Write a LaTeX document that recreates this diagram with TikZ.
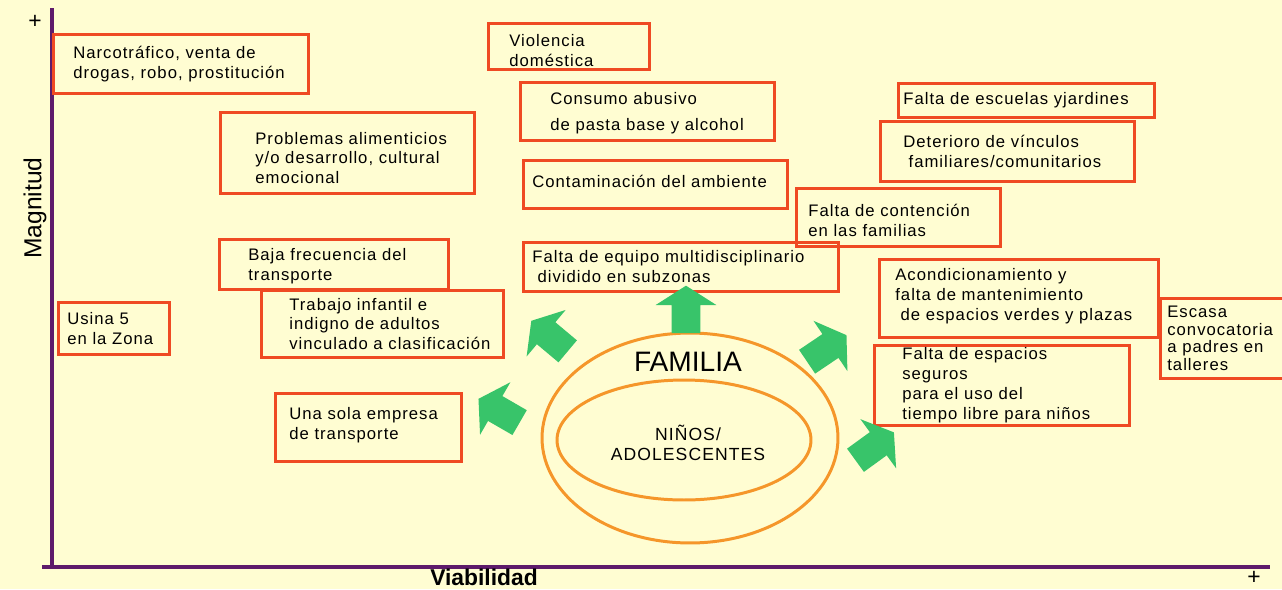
\documentclass[tikz,border=0pt]{standalone}
\usepackage{fontspec}
\setmainfont{Liberation Sans}
\newfontfamily\boxfont{Liberation Sans}[LetterSpace=6]
\usetikzlibrary{positioning}
\usetikzlibrary{shapes.geometric}
\usetikzlibrary{shapes.arrows}
\usepackage{xcolor}

\definecolor{bgyellow}{HTML}{FFFDD2}
\definecolor{boxred}{HTML}{EF4A23}
\definecolor{axispurple}{HTML}{5E1B6B}
\definecolor{ringorange}{HTML}{F5962A}
\definecolor{arrowgreen}{HTML}{38C46A}

\tikzset{
  probbox/.style={draw=boxred, line width=1.6pt, anchor=north west, inner sep=0pt},
  probtext/.style={font=\boxfont\fontsize{9.5}{11.3}\selectfont, align=left, inner sep=0pt},
  ring/.style={draw=ringorange, ellipse, line width=1.7pt, inner sep=0pt},
  garrow/.style={single arrow, fill=arrowgreen, inner xsep=0pt, inner ysep=0.28cm,
    minimum height=0.95cm, single arrow head extend=0.32cm, single arrow tip angle=115}
}

\begin{document}
\begin{tikzpicture}[x=0.02cm,y=-0.02cm]
      % Background
      \fill[bgyellow] (0,0) rectangle (1282,589);
      \useasboundingbox (0,0) rectangle (1282,589);

      % Axis
      \draw[axispurple, line width=2.2pt] (52,8) -- (52,567);
      \draw[axispurple, line width=2.2pt] (42,567) -- (1270,567);
      \node[font=\fontsize{13}{13}\selectfont] (ymax) at (35,22) {+};
      \node[font=\fontsize{13}{13}\selectfont] (xmax) at (1254,578) {+};
      \node[rotate=90, font=\fontsize{14}{14}\selectfont] (ylabel) at (35,208) {Magnitud};
      \node[font=\bfseries\fontsize{13}{13}\selectfont, inner sep=0pt] (xlabel) at (484,577) {Viabilidad};

      % Boxes
      \foreach \nm/\l/\t/\w/\h in {narco/52/33/255/59, violencia/487/22/161/46,
        consumo/519/81/254/58, escuelas/897/82/256/34, problemas/219/111/254/81,
        deterioro/879/120/254/60, contam/522/159/264/48, contencion/795/187/204/58,
        baja/218/238/229/50, equipo/522/241/315/49, acond/878/258/279/78,
        usina/57/301/111/52, trabajo/260/289/242/67, escasa/1159/297/130/80,
        seguros/873/344/255/80, empresa/274/392/186/68}
      {
        \node[probbox, minimum width=\w*0.02cm, minimum height=\h*0.02cm] (\nm) at (\l,\t) {};
      }

      % Box texts
      \node[probtext, right=0.42cm of narco.west] (narcoT) {Narcotráfico, venta de\\drogas, robo, prostitución};
      \node[probtext, right=0.44cm of violencia.west, yshift=-0.08cm] (violenciaT) {Violencia\\doméstica};
      \node[probtext, right=0.62cm of consumo.west, yshift=-0.04cm] (consumoT) {Consumo abusivo\\[3.4pt]de pasta base y alcohol};
      \node[probtext, right=0.12cm of escuelas.west] (escuelasT) {Falta de escuelas yjardines};
      \node[probtext, right=0.72cm of problemas.west, yshift=-0.1cm] (problemasT) {Problemas alimenticios\\y/o desarrollo, cultural\\emocional};
      \node[probtext, right=0.48cm of deterioro.west] (deterioroT) {Deterioro de vínculos\\\hspace*{3pt}familiares/comunitarios};
      \node[probtext, right=0.2cm of contam.west, yshift=0.06cm] (contamT) {Contaminación del ambiente};
      \node[probtext, right=0.26cm of contencion.west, yshift=-0.06cm] (contencionT) {Falta de contención\\en las familias};
      \node[probtext, right=0.6cm of baja.west, yshift=-0.04cm] (bajaT) {Baja frecuencia del\\transporte};
      \node[probtext, right=0.2cm of equipo.west] (equipoT) {Falta de equipo multidisciplinario\\\hspace*{3pt}dividido en subzonas};
      \node[probtext, right=0.34cm of acond.west, yshift=0.04cm] (acondT) {Acondicionamiento y\\falta de mantenimiento\\\hspace*{3pt}de espacios verdes y plazas};
      \node[probtext, right=0.2cm of usina.west] (usinaT) {Usina 5\\en la Zona};
      \node[probtext, right=0.58cm of trabajo.west] (trabajoT) {Trabajo infantil e\\indigno de adultos\\vinculado a clasificación};
      \node[probtext, font=\boxfont\fontsize{9.5}{10}\selectfont, right=0.16cm of escasa.west] (escasaT) {Escasa\\convocatoria\\a padres en\\talleres};
      \node[probtext, right=0.58cm of seguros.west] (segurosT) {Falta de espacios\\seguros\\para el uso del\\tiempo libre para niños};
      \node[probtext, right=0.3cm of empresa.west, yshift=0.04cm] (empresaT) {Una sola empresa\\de transporte};

      % Family rings
      \node[ring, minimum width=5.92cm, minimum height=4.2cm] (familia) at (690,438) {};
      \node[ring, minimum width=5.08cm, minimum height=2.4cm] (ninos) at (684,440) {};
      \node[font=\fontsize{16}{16}\selectfont] (familiaT) at (688,362) {FAMILIA};
      \node[align=center, font=\boxfont\fontsize{10}{11}\selectfont] (ninosT) at (688,443) {NIÑOS/\\ADOLESCENTES};

      % Arrows
      \node[garrow, rotate=90] (arrTop) at (686,314) {};
      \node[garrow, rotate=140] (arrUpLeft) at (553,339) {};
      \node[garrow, rotate=150] (arrLeft) at (503,413) {};
      \node[garrow, rotate=34] (arrUpRight) at (823,351) {};
      \node[garrow, rotate=36] (arrDownRight) at (871,449) {};
\end{tikzpicture}
\end{document}
